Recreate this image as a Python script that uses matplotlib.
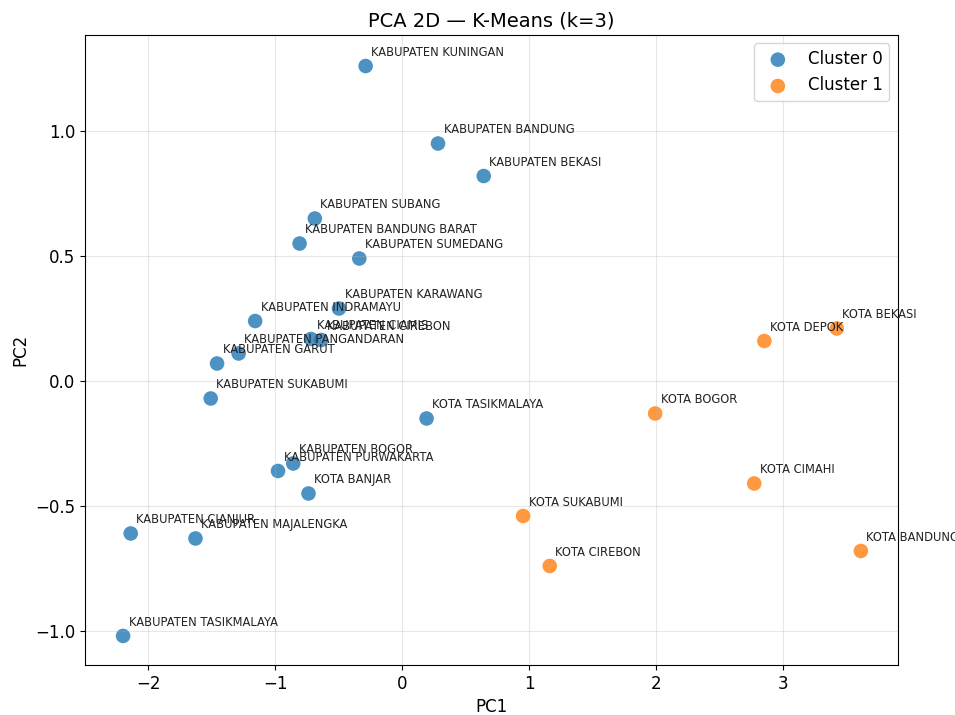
import matplotlib
matplotlib.use('Agg')
import matplotlib.pyplot as plt

# cluster 0 (kabupaten + a couple of kota)
names0 = ['KABUPATEN KUNINGAN', 'KABUPATEN BANDUNG', 'KABUPATEN BEKASI', 'KABUPATEN SUBANG',
          'KABUPATEN BANDUNG BARAT', 'KABUPATEN SUMEDANG', 'KABUPATEN KARAWANG', 'KABUPATEN INDRAMAYU',
          'KABUPATEN CIAMIS', 'KABUPATEN CIREBON', 'KABUPATEN PANGANDARAN', 'KABUPATEN GARUT',
          'KABUPATEN SUKABUMI', 'KOTA TASIKMALAYA', 'KABUPATEN BOGOR', 'KABUPATEN PURWAKARTA',
          'KOTA BANJAR', 'KABUPATEN CIANJUR', 'KABUPATEN MAJALENGKA', 'KABUPATEN TASIKMALAYA']
pc1_0 = [-0.29, 0.28, 0.64, -0.69, -0.81, -0.34, -0.50, -1.16,
         -0.72, -0.64, -1.29, -1.46, -1.51, 0.19, -0.86, -0.98,
         -0.74, -2.14, -1.63, -2.20]
pc2_0 = [1.26, 0.95, 0.82, 0.65, 0.55, 0.49, 0.29, 0.24,
         0.168, 0.164, 0.11, 0.07, -0.07, -0.15, -0.33, -0.36,
         -0.45, -0.61, -0.63, -1.02]

# cluster 1 (kota)
names1 = ['KOTA BEKASI', 'KOTA DEPOK', 'KOTA BOGOR', 'KOTA CIMAHI', 'KOTA SUKABUMI',
          'KOTA CIREBON', 'KOTA BANDUNG']
pc1_1 = [3.42, 2.85, 1.99, 2.77, 0.95, 1.16, 3.61]
pc2_1 = [0.21, 0.16, -0.13, -0.41, -0.54, -0.74, -0.68]

fig = plt.figure(figsize=(9.55, 7.15), dpi=100)
ax = fig.add_axes([0.089, 0.070, 0.851, 0.881])

ax.scatter(pc1_0, pc2_0, s=110, alpha=0.8, color='#1f77b4', label='Cluster 0', edgecolors='none')
ax.scatter(pc1_1, pc2_1, s=110, alpha=0.8, color='#ff7f0e', label='Cluster 1', edgecolors='none')

for n, x, y in zip(names0 + names1, pc1_0 + pc1_1, pc2_0 + pc2_1):
    ax.annotate(n, (x, y), xytext=(4, 7.5), textcoords='offset points', fontsize=8.3, color='#222222')

ax.set_xlim(-2.5, 3.9)
ax.set_ylim(-1.136, 1.384)
ax.set_title('PCA 2D — K-Means (k=3)', fontsize=14)
ax.set_xlabel('PC1', fontsize=12)
ax.set_ylabel('PC2', fontsize=12)
ax.tick_params(labelsize=12)
ax.grid(True, alpha=0.3)
ax.legend(loc='upper right', fontsize=12)

fig.savefig('out.png', dpi=100)
